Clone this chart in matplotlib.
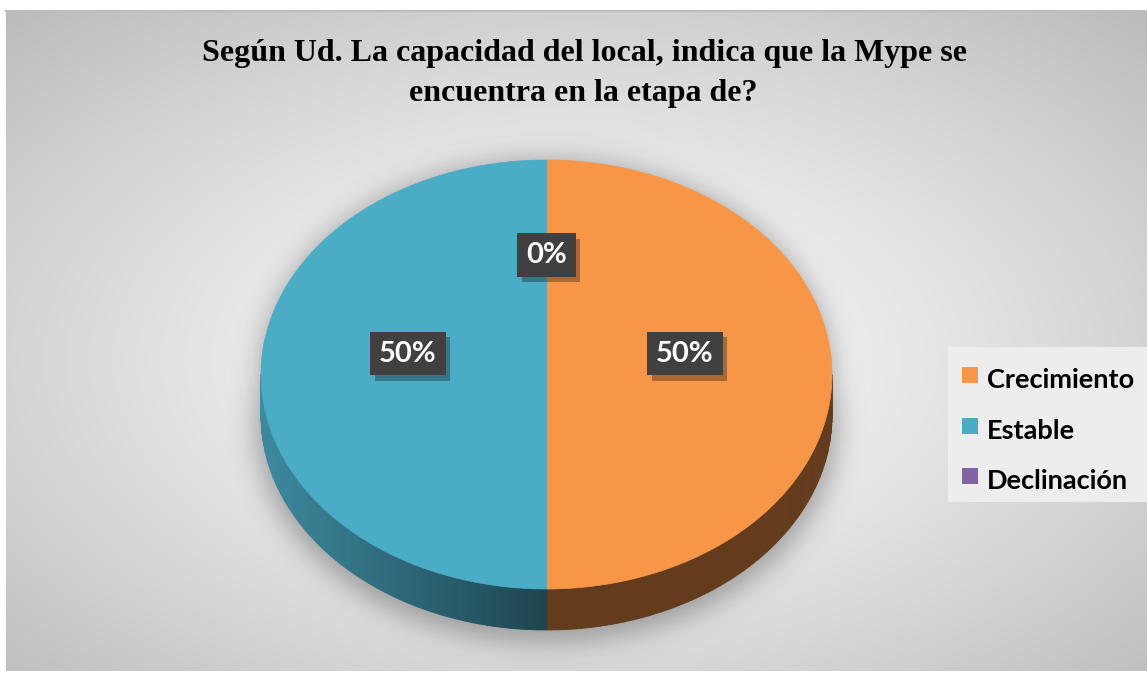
import numpy as np
import matplotlib
matplotlib.use('Agg')
import matplotlib.pyplot as plt
import matplotlib.patheffects as pe
from matplotlib.patches import Polygon, Rectangle
from matplotlib.colors import to_rgb

# ---------------- data ----------------
title_lines = ["Según Ud. La capacidad del local, indica que la Mype se",
               "encuentra en la etapa de?"]
categories = ['Crecimiento', 'Estable', 'Declinación']
values = [50, 50, 0]
colors = ['#F79646', '#4BACC6', '#8064A2']

# ---------------- figure ----------------
W, H = 1147, 674
fig = plt.figure(figsize=(W / 100, H / 100), dpi=100)
ax = fig.add_axes([0, 0, 1, 1])
ax.axis('off')

# background frame with radial gradient
x0f, y0f, x1f, y1f = 6, 10, 1147, 671
yy, xx = np.mgrid[y0f:y1f, x0f:x1f] + 0.5
cxb, cyb = 575, 360
r = np.sqrt(((xx - cxb) / ((x1f - x0f) / 2)) ** 2 +
            ((yy - cyb) / ((y1f - y0f) / 2)) ** 2) / np.sqrt(2)
g = np.clip((251 - 62 * r ** 1.3) / 255, 0, 1)
ax.imshow(np.dstack([g, g, g]), extent=(x0f, x1f, y1f, y0f), zorder=0,
          interpolation='bilinear', aspect='auto')
ax.plot([x0f, x1f], [y0f + 0.5, y0f + 0.5], color='#bdbdbd', lw=1.5, zorder=0.5)

# pie geometry (pixels)
cx, cy, a, b, depth = 546.5, 374.5, 285.5, 214.5, 41

# soft shadow
Y, X = np.mgrid[0:H, 0:W] + 0.5
top = ((X - cx) / a) ** 2 + ((Y - cy) / b) ** 2 <= 1
bot = ((X - cx) / (a * 1.02)) ** 2 + ((Y - cy - depth - 8) / (b * 1.02)) ** 2 <= 1
band = (np.abs(X - cx) <= a) & (Y >= cy) & (Y <= cy + depth)
mask = (top | bot | band).astype(float)
sig = 13
ky = np.fft.fftfreq(H)
kx = np.fft.rfftfreq(W)
G = np.exp(-2 * (np.pi * sig) ** 2 * (ky[:, None] ** 2 + kx[None, :] ** 2))
blur = np.fft.irfft2(np.fft.rfft2(mask) * G, s=(H, W))
shadow = np.zeros((H, W, 4))
shadow[..., :3] = 0.3
shadow[..., 3] = np.clip(blur, 0, 1) * 0.45
ax.imshow(shadow, extent=(0, W, H, 0), zorder=1, aspect='auto')


def pt(theta_deg, dy=0.0):
    t = np.radians(theta_deg)
    return cx + a * np.sin(t), cy - b * np.cos(t) + dy


def side_factor(theta):
    if theta <= 180:
        return 0.40
    return 0.40 + 0.40 * (-np.sin(np.radians(theta)))


total = float(sum(values))
angles = []
start = 0.0
for v in values:
    span = 360.0 * v / total
    angles.append((start, start + span))
    start += span

# sides (visible front half: 90..270 degrees clockwise from 12 o'clock)
for (t0, t1), col in zip(angles, colors):
    lo, hi = max(t0, 90), min(t1, 270)
    if hi <= lo:
        continue
    base = np.array(to_rgb(col))
    steps = np.linspace(lo, hi, int(hi - lo) + 2)
    for s0, s1 in zip(steps[:-1], steps[1:]):
        f = side_factor((s0 + s1) / 2)
        c = np.clip(base * f, 0, 1)
        poly = [pt(s0), pt(s1), pt(s1, depth), pt(s0, depth)]
        ax.add_patch(Polygon(poly, closed=True, fc=c, ec=c, lw=0.6, zorder=2))

# top faces
for (t0, t1), col in zip(angles, colors):
    if t1 - t0 <= 0:
        continue
    th = np.linspace(t0, t1, max(int(t1 - t0) * 2, 2))
    poly = [(cx, cy)] + [pt(t) for t in th]
    ax.add_patch(Polygon(poly, closed=True, fc=col, ec=col, lw=0.5, zorder=3))

# data labels
for (t0, t1), v in zip(angles, values):
    m = np.radians((t0 + t1) / 2)
    lx = cx + 0.485 * a * np.sin(m)
    ly = cy - 21 - 0.46 * b * np.cos(m)
    lab = f"{v / total * 100:.0f}%"
    t = ax.text(lx, ly, lab, ha='center', va='center', fontsize=21,
                fontweight='bold', family='Lato', color='white', zorder=5,
                bbox=dict(boxstyle='square,pad=0.3', fc='#404040', ec='none'))
    t.get_bbox_patch().set_path_effects([
        pe.SimplePatchShadow(offset=(3, -4), shadow_rgbFace='black', alpha=0.3),
        pe.Normal()])

# legend
ax.add_patch(Rectangle((948, 347), 199, 155, fc='#ededed', ec='none', zorder=2))
leg_y = [380, 431, 481]
for cat, col, ly in zip(categories, colors, leg_y):
    ax.add_patch(Rectangle((962, ly - 13), 16, 16, fc=col, ec='none', zorder=3))
    ax.text(987, ly, cat, ha='left', va='center', fontsize=19.5, fontweight='bold',
            family='Lato', color='black', zorder=3)

# title
ax.text(584, 53, title_lines[0], ha='center', va='center', fontsize=23,
        fontweight='bold', family='Liberation Serif', color='black', zorder=3)
ax.text(583, 93, title_lines[1], ha='center', va='center', fontsize=23,
        fontweight='bold', family='Liberation Serif', color='black', zorder=3)

ax.set_xlim(0, W)
ax.set_ylim(H, 0)
fig.savefig('out.png', dpi=100)
